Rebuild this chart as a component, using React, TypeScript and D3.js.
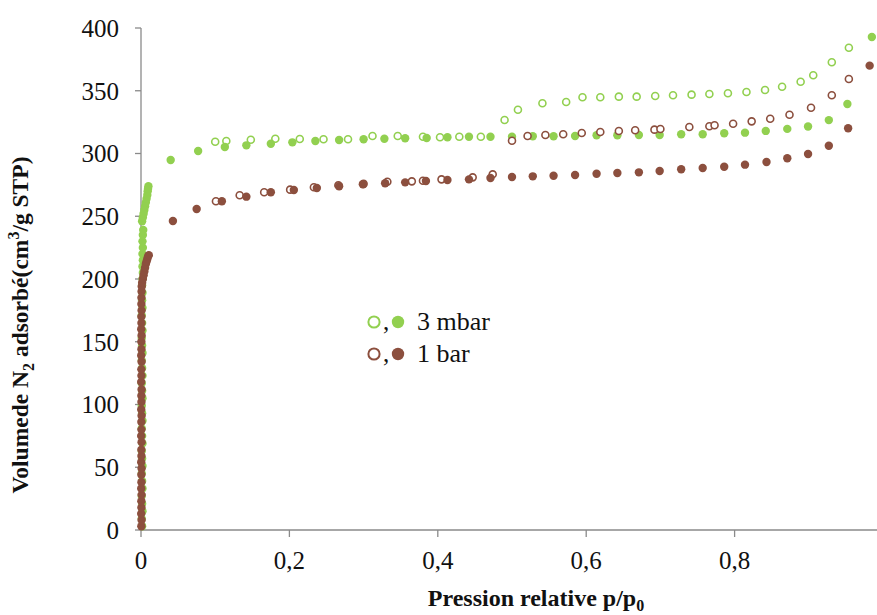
import React from "react";
import * as d3 from "d3";

// 3 mbar — adsorption (filled) and desorption (open)
const green3mbarAds: [number, number][] = [
  [0.0015, 3], [0.001, 9], [0.002, 15], [0.0015, 21], [0.001, 27], [0.002, 33], [0.0015, 39], [0.001, 45],
  [0.002, 51], [0.0015, 57], [0.001, 63], [0.002, 69], [0.0015, 75], [0.001, 81], [0.002, 87], [0.0015, 93],
  [0.001, 99], [0.002, 105], [0.0015, 111], [0.001, 117], [0.002, 123], [0.0015, 129], [0.001, 135], [0.002, 141],
  [0.0015, 147], [0.001, 153], [0.002, 159], [0.0015, 165], [0.001, 171], [0.002, 177], [0.0015, 183], [0.002, 189],
  [0.0015, 195], [0.002, 200], [0.0025, 205], [0.002, 210], [0.0025, 215], [0.002, 220], [0.0025, 225], [0.002, 230],
  [0.0025, 235], [0.003, 239],
  [0.0015, 246], [0.0025, 249], [0.0035, 252], [0.0045, 255], [0.0055, 258], [0.0065, 261], [0.0075, 264],
  [0.0085, 267], [0.009, 270], [0.0095, 272], [0.010, 274],
  [0.040, 294.8], [0.077, 302], [0.113, 305.2], [0.142, 306.5], [0.175, 307.8], [0.204, 308.9], [0.235, 310],
  [0.267, 310.8], [0.3, 311.3], [0.328, 311.8], [0.356, 312.1], [0.385, 312.4], [0.413, 312.9], [0.442, 313.4],
  [0.471, 313.4], [0.5, 313.4], [0.528, 313.7], [0.556, 313.7], [0.585, 314], [0.614, 314.5], [0.642, 314.5],
  [0.671, 314.7], [0.699, 314.7], [0.728, 315.3], [0.757, 315.3], [0.786, 316.1], [0.814, 316.6], [0.842, 318],
  [0.871, 319.6], [0.899, 321.5], [0.927, 326.6], [0.952, 339.4], [0.985, 392.8],
];

const green3mbarDes: [number, number][] = [
  [0.1, 309.4], [0.115, 310], [0.148, 311], [0.181, 311.8], [0.214, 311.6], [0.246, 311.3], [0.279, 311.3],
  [0.312, 314], [0.346, 314], [0.38, 313.4], [0.403, 312.9], [0.429, 313.4], [0.458, 313.4], [0.49, 326.7],
  [0.508, 334.9], [0.541, 340], [0.573, 341], [0.595, 344.8], [0.619, 344.8], [0.644, 345.3], [0.668, 345.3],
  [0.693, 345.8], [0.717, 346.4], [0.742, 346.9], [0.766, 347.4], [0.791, 348], [0.816, 349], [0.841, 350.6],
  [0.864, 353.2], [0.889, 357.2], [0.906, 362.3], [0.931, 372.7], [0.954, 384.3],
];

// 1 bar — adsorption (filled) and desorption (open)
const brown1barAds: [number, number][] = [
  [0.0005, 3], [0.0008, 8], [0.0003, 13], [0.0006, 18], [0.0005, 23], [0.0008, 28], [0.0003, 33], [0.0006, 38],
  [0.0005, 44], [0.0008, 49], [0.0003, 54], [0.0006, 59], [0.0005, 64], [0.0008, 70], [0.0003, 75], [0.0006, 80],
  [0.0005, 86], [0.0008, 91], [0.0003, 96], [0.0006, 102], [0.0005, 107], [0.0008, 112], [0.0003, 118], [0.0006, 123],
  [0.0005, 128], [0.0008, 134], [0.0003, 139], [0.0006, 144], [0.0005, 150], [0.0008, 155], [0.0003, 160],
  [0.0006, 165], [0.0005, 170], [0.0008, 175], [0.0005, 180], [0.0006, 185], [0.0008, 190], [0.001, 194],
  [0.0015, 197], [0.0025, 200], [0.0035, 203], [0.0045, 206], [0.0055, 209], [0.0065, 212], [0.0075, 214],
  [0.0085, 216], [0.0095, 218], [0.0105, 219],
  [0.043, 246.2], [0.075, 255.8], [0.109, 261.9], [0.142, 265.6], [0.175, 269.1], [0.206, 270.9], [0.237, 272.5],
  [0.267, 273.9], [0.299, 275.5], [0.329, 276.3], [0.356, 277], [0.384, 278.1], [0.413, 278.9], [0.442, 279.4],
  [0.471, 280.5], [0.5, 281.3], [0.528, 281.8], [0.556, 282.3], [0.585, 282.9], [0.614, 283.9], [0.642, 284.5],
  [0.671, 285], [0.699, 286], [0.728, 287.4], [0.757, 288.4], [0.786, 289.5], [0.814, 291.1], [0.843, 293.2],
  [0.871, 296.2], [0.899, 299.6], [0.927, 306.2], [0.953, 320.1], [0.982, 370],
];

const brown1barDes: [number, number][] = [
  [0.101, 261.9], [0.133, 266.7], [0.166, 269.1], [0.201, 271.2], [0.233, 273.1], [0.266, 274.7], [0.3, 275.8],
  [0.332, 277.5], [0.365, 277.8], [0.38, 278.3], [0.405, 279.4], [0.447, 281], [0.474, 283.4], [0.5, 310.2],
  [0.521, 314], [0.545, 314.7], [0.569, 315.3], [0.594, 316.3], [0.619, 317.1], [0.644, 317.9], [0.666, 318.5],
  [0.692, 319], [0.7, 319.5], [0.739, 321.1], [0.766, 321.7], [0.773, 322.5], [0.798, 323.7], [0.823, 325.6],
  [0.848, 327.7], [0.874, 330.9], [0.903, 336.5], [0.931, 346.4], [0.954, 359.4],
];

const xTicks = [0, 0.2, 0.4, 0.6, 0.8, 1];
const xTickLabels = ["0", "0,2", "0,4", "0,6", "0,8", "1"];
const yTicks = [0, 50, 100, 150, 200, 250, 300, 350, 400];
const legendLabels = ["3 mbar", "1 bar"];

const GREEN = "#92d050";
const BROWN = "#8c4f3e";
const AXIS = "#8a8a8a";
const FONT = "Liberation Serif, Times New Roman, serif";

export default function App() {
  const W = 877;
  const H = 615;
  const x = d3.scaleLinear().domain([0, 1]).range([141, 883]);
  const y = d3.scaleLinear().domain([0, 400]).range([530, 28]);
  const r = 4.2;

  const filled = (data: [number, number][], color: string, key: string) =>
    data.map((d, i) => <circle key={key + i} cx={x(d[0])} cy={y(d[1])} r={r} fill={color} />);
  const open = (data: [number, number][], color: string, key: string) =>
    data.map((d, i) => (
      <circle key={key + i} cx={x(d[0])} cy={y(d[1])} r={r - 0.7} fill="#fff" stroke={color} strokeWidth={1.6} />
    ));

  const legendColors = [GREEN, BROWN];
  const ts = { fontFamily: FONT };

  return (
    <svg width={W} height={H} style={{ position: "absolute", left: 0, top: 0, background: "#fff" }}>
      {/* axes */}
      <line x1={x(0)} x2={x(0)} y1={y(400)} y2={y(0)} stroke={AXIS} strokeWidth={1.3} />
      <line x1={x(0)} x2={x(1)} y1={y(0)} y2={y(0)} stroke={AXIS} strokeWidth={1.3} />
      {yTicks.map((t) => (
        <g key={"yt" + t}>
          <line x1={x(0) - 6} x2={x(0)} y1={y(t)} y2={y(t)} stroke={AXIS} strokeWidth={1.3} />
          <text x={119} y={y(t)} dy="0.35em" textAnchor="end" fontSize={25} fill="#111" style={ts}>
            {t}
          </text>
        </g>
      ))}
      {xTicks.map((t, i) => (
        <g key={"xt" + t}>
          <line x1={x(t)} x2={x(t)} y1={y(0)} y2={y(0) + 7} stroke={AXIS} strokeWidth={1.3} />
          <text x={x(t)} y={569} textAnchor="middle" fontSize={25} fill="#111" style={ts}>
            {xTickLabels[i]}
          </text>
        </g>
      ))}

      {/* data */}
      {open(green3mbarDes, GREEN, "gd")}
      {filled(green3mbarAds, GREEN, "ga")}
      {open(brown1barDes, BROWN, "bd")}
      {filled(brown1barAds, BROWN, "ba")}

      {/* legend */}
      {legendLabels.map((lab, i) => {
        const ly = 322 + i * 32;
        return (
          <g key={"lg" + i}>
            <circle cx={374} cy={ly} r={5.6} fill="#fff" stroke={legendColors[i]} strokeWidth={2} />
            <text x={383} y={ly + 8} fontSize={25} fill="#111" style={ts}>,</text>
            <circle cx={398} cy={ly} r={6.2} fill={legendColors[i]} />
            <text x={417} y={ly + 8} fontSize={26} fill="#111" style={ts}>
              {lab}
            </text>
          </g>
        );
      })}

      {/* titles */}
      <text
        transform={`translate(28, 325) rotate(-90)`}
        textAnchor="middle"
        fontSize={23.5}
        fontWeight="bold"
        fill="#111"
        style={ts}
      >
        <tspan>Volumede  N</tspan>
        <tspan fontSize={16} dy={6}>2</tspan>
        <tspan dy={-6}> adsorbé(cm</tspan>
        <tspan fontSize={16} dy={-9}>3</tspan>
        <tspan dy={9}>/g STP)</tspan>
      </text>
      <text x={536} y={606} textAnchor="middle" fontSize={24} fontWeight="bold" fill="#111" style={ts}>
        <tspan>Pression relative p/p</tspan>
        <tspan fontSize={16} dy={5}>0</tspan>
      </text>
    </svg>
  );
}
